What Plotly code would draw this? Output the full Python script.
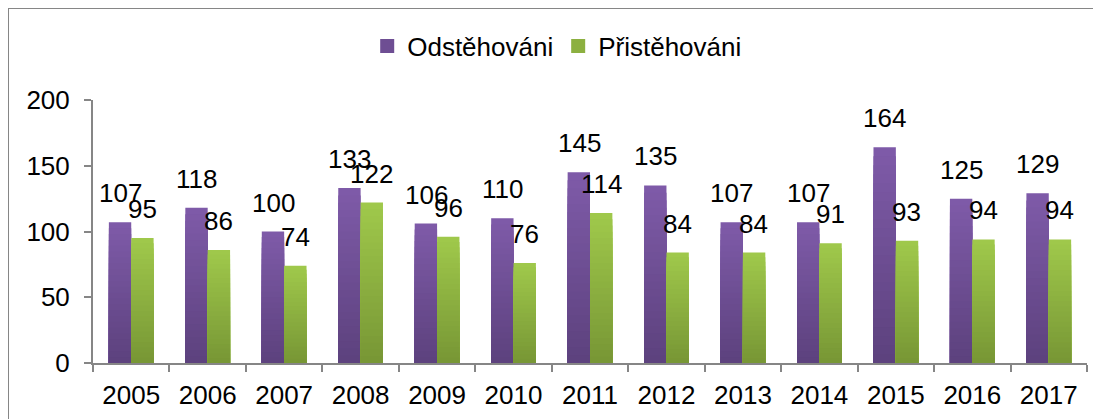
import plotly.graph_objects as go

years = ["2005", "2006", "2007", "2008", "2009", "2010", "2011", "2012", "2013", "2014", "2015", "2016", "2017"]
odstehovani = [107, 118, 100, 133, 106, 110, 145, 135, 107, 107, 164, 125, 129]
pristehovani = [95, 86, 74, 122, 96, 76, 114, 84, 84, 91, 93, 94, 94]

series = [
    ("Odstěhováni", odstehovani, (0x7E, 0x5A, 0xA8), (0x5D, 0x42, 0x7E), -11),
    ("Přistěhováni", pristehovani, (0x9F, 0xC8, 0x4B), (0x78, 0x97, 0x35), 11),
]

FONT = "Liberation Sans, Arial, sans-serif"
FS = 26
N = 24

def mix(c1, c2, t):
    return "rgb(%d,%d,%d)" % tuple(round(a + (b - a) * t) for a, b in zip(c1, c2))

fig = go.Figure()
for name, vals, top, bot, _ in series:
    for k in range(N):
        frac = 1 - k / N
        fig.add_trace(go.Bar(
            x=years,
            y=[v * frac for v in vals],
            name=name,
            offsetgroup=name,
            legendgroup=name,
            showlegend=False,
            marker=dict(color=mix(top, bot, k / (N - 1)), line=dict(width=0)),
            hoverinfo="skip",
        ))

# legend entries with larger square swatches
for name, vals, top, bot, _ in series:
    fig.add_trace(go.Scatter(
        x=[None], y=[None], mode="markers", name=name, legendgroup=name,
        marker=dict(symbol="square", size=14, color=mix(top, bot, 0.5), line=dict(width=0)),
        hoverinfo="skip", showlegend=True,
    ))

annotations = []
for name, vals, top, bot, shift in series:
    for i, v in enumerate(vals):
        annotations.append(dict(
            x=i, y=v, xref="x", yref="y", text=str(v), showarrow=False,
            xshift=shift, yshift=12, yanchor="bottom", xanchor="center",
            font=dict(family=FONT, size=FS, color="#000000"),
        ))

axis_color = "#868686"
fig.update_layout(
    width=1101, height=419,
    margin=dict(l=85, r=22, t=92, b=64, autoexpand=False),
    paper_bgcolor="white", plot_bgcolor="white",
    barmode="group", bargap=0.415, bargroupgap=0,
    font=dict(family=FONT, size=FS, color="#000000"),
    legend=dict(orientation="h", x=0.467, y=1.205, xanchor="center", yanchor="middle",
                font=dict(family=FONT, size=FS, color="#000000"),
                itemsizing="trace", itemwidth=30,
                bgcolor="rgba(0,0,0,0)", itemclick=False, traceorder="normal"),
    xaxis=dict(type="category", range=[-0.5, len(years) - 0.5], autorange=False,
               automargin=False,
               showgrid=False, showline=True, linecolor=axis_color, linewidth=2,
               ticks="outside", tickson="boundaries", ticklen=7, tickcolor=axis_color, tickwidth=2,
               tickangle=0, ticklabelstandoff=8,
               tickfont=dict(family=FONT, size=FS, color="#000000")),
    yaxis=dict(range=[0, 200], autorange=False, automargin=False,
               tickvals=[0, 50, 100, 150, 200], showgrid=False, zeroline=False,
               showline=True, linecolor=axis_color, linewidth=2,
               ticks="outside", ticklen=7, tickcolor=axis_color, tickwidth=2,
               ticklabelstandoff=9,
               tickfont=dict(family=FONT, size=FS, color="#000000")),
    annotations=annotations,
    shapes=[dict(type="rect", xref="paper", yref="paper", x0=-0.0855, x1=1.03, y0=-0.3, y1=1.3498,
                 line=dict(color=axis_color, width=2), fillcolor="rgba(0,0,0,0)", layer="below")],
)

fig.write_html("out.html")
